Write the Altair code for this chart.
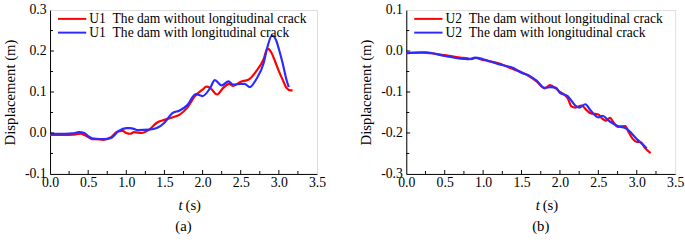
import altair as alt
import pandas as pd

# ---------------- data ----------------
# Panel (a): U1
a_red_t = [0.0, 0.1, 0.2, 0.3, 0.35, 0.4, 0.45, 0.5, 0.55, 0.6, 0.7, 0.8, 0.88, 0.95, 1.0, 1.05, 1.1,
           1.2, 1.3, 1.4, 1.5, 1.6, 1.7, 1.8, 1.9, 2.0, 2.05, 2.1, 2.19, 2.27, 2.35, 2.4, 2.5, 2.6,
           2.7, 2.8, 2.85, 2.9, 2.95, 3.0, 3.05, 3.1, 3.15, 3.18]
a_red_d = [-0.005, -0.005, -0.005, -0.004, -0.003, -0.002, -0.005, -0.01, -0.015, -0.015, -0.017,
           -0.01, 0.003, 0.005, 0.0, -0.002, 0.002, 0.0, 0.008, 0.025, 0.032, 0.038, 0.045, 0.062,
           0.09, 0.106, 0.113, 0.11, 0.094, 0.11, 0.12, 0.115, 0.125, 0.13, 0.15, 0.18, 0.206, 0.197,
           0.175, 0.151, 0.13, 0.11, 0.104, 0.104]
a_blue_t = [0.0, 0.1, 0.2, 0.3, 0.38, 0.45, 0.5, 0.55, 0.6, 0.7, 0.8, 0.9, 1.0, 1.05, 1.1, 1.15, 1.3,
            1.4, 1.5, 1.6, 1.7, 1.8, 1.91, 2.0, 2.1, 2.16, 2.25, 2.34, 2.4, 2.5, 2.55, 2.62, 2.7, 2.8,
            2.85, 2.91, 2.96, 3.0, 3.05, 3.1, 3.13]
a_blue_d = [-0.002, -0.002, -0.002, -0.001, 0.002, 0.0, -0.008, -0.013, -0.014, -0.015, -0.012,
            0.005, 0.012, 0.012, 0.01, 0.007, 0.008, 0.012, 0.025, 0.048, 0.055, 0.068, 0.095, 0.09,
            0.11, 0.129, 0.116, 0.126, 0.118, 0.12, 0.12, 0.112, 0.13, 0.17, 0.21, 0.238, 0.228,
            0.205, 0.17, 0.13, 0.112]

# Panel (b): U2
b_red_t = [0.0, 0.2, 0.35, 0.5, 0.7, 0.8, 0.85, 0.9, 1.0, 1.2, 1.4, 1.5, 1.6, 1.7, 1.8, 1.87, 1.95,
           2.0, 2.05, 2.1, 2.15, 2.2, 2.28, 2.35, 2.4, 2.5, 2.55, 2.6, 2.65, 2.7, 2.75, 2.85, 2.9,
           2.95, 3.0, 3.05, 3.1, 3.18]
b_red_d = [-0.005, -0.004, -0.006, -0.01, -0.016, -0.018, -0.02, -0.017, -0.022, -0.03, -0.045,
           -0.052, -0.062, -0.075, -0.091, -0.083, -0.092, -0.1, -0.105, -0.115, -0.135, -0.138,
           -0.133, -0.145, -0.152, -0.155, -0.165, -0.17, -0.163, -0.175, -0.185, -0.183, -0.2,
           -0.215, -0.222, -0.222, -0.235, -0.249]
b_blue_t = [0.0, 0.25, 0.5, 0.8, 0.9, 1.0, 1.2, 1.4, 1.5, 1.6, 1.7, 1.8, 1.88, 1.95, 2.0, 2.1, 2.2,
            2.25, 2.33, 2.4, 2.5, 2.55, 2.65, 2.75, 2.85, 2.9, 3.0, 3.1, 3.13]
b_blue_d = [-0.005, -0.003, -0.012, -0.02, -0.016, -0.02, -0.032, -0.042, -0.053, -0.06, -0.073,
            -0.09, -0.088, -0.09, -0.102, -0.11, -0.133, -0.138, -0.13, -0.145, -0.162, -0.158,
            -0.172, -0.183, -0.188, -0.195, -0.215, -0.232, -0.238]

a_names = ["U1\u00a0\u00a0The dam without longitudinal crack", "U1\u00a0\u00a0The dam with longitudinal crack"]
b_names = ["U2\u00a0\u00a0The dam without longitudinal crack", "U2\u00a0\u00a0The dam with longitudinal crack"]

x_major = [0.0, 0.5, 1.0, 1.5, 2.0, 2.5, 3.0, 3.5]
x_minor = [0.25, 0.75, 1.25, 1.75, 2.25, 2.75, 3.25]
a_y_major = [-0.1, 0.0, 0.1, 0.2, 0.3]
a_y_minor = [-0.05, 0.05, 0.15, 0.25]
b_y_major = [-0.3, -0.2, -0.1, 0.0, 0.1]
b_y_minor = [-0.25, -0.15, -0.05, 0.05]

FONT = "Liberation Serif"
RED = "#ff0000"
BLUE = "#2b2bff"
H = 167

label_expr = "datum.value < 0 ? '-' + format(-datum.value, '.1f') : format(datum.value, '.1f')"


def panel(rt, rd, btt, bd, names, ydom, ymaj, ymin, W, caption):
    df = pd.concat([
        pd.DataFrame({"t": rt, "d": rd, "s": names[0]}),
        pd.DataFrame({"t": btt, "d": bd, "s": names[1]}),
    ])
    xs = alt.Scale(domain=[0, 3.5], nice=False, zero=False)
    ys = alt.Scale(domain=ydom, nice=False, zero=False)
    xax = alt.Axis(values=x_major, labelExpr=label_expr, tickSize=0, grid=False,
                   title=None, labelPadding=2, domainColor="black",
                   labelOverlap=False, labelFlush=False,
                   labelFont=FONT, labelFontSize=14, labelColor="black")
    yax = alt.Axis(values=ymaj, labelExpr=label_expr, tickSize=0, grid=False,
                   title="Displacement (m)", titleFont=FONT, titleFontSize=15,
                   titleFontWeight="normal", titleColor="black", titlePadding=7,
                   labelPadding=4, domainColor="black",
                   labelOverlap=False, labelFlush=False,
                   labelFont=FONT, labelFontSize=14, labelColor="black")
    lines = alt.Chart(df).mark_line(strokeWidth=2.2, interpolate="monotone").encode(
        x=alt.X("t:Q", scale=xs, axis=xax),
        y=alt.Y("d:Q", scale=ys, axis=yax),
        color=alt.Color("s:N", scale=alt.Scale(domain=names, range=[RED, BLUE]),
                        legend=alt.Legend(title=None, orient="none", legendX=15.5, legendY=2,
                                          symbolType="M-2.4,0H2.4", symbolSize=144, symbolStrokeWidth=2,
                                          labelFont=FONT, labelFontSize=13.8, labelColor="black",
                                          labelLimit=400, rowPadding=-2, padding=0, labelOffset=10.5)),
    )
    xmaj = alt.Chart(pd.DataFrame({"t": x_major[1:-1]})).mark_rule(color="black").encode(
        x=alt.X("t:Q", scale=xs, axis=xax), y=alt.value(H), y2=alt.value(H - 4))
    xmin = alt.Chart(pd.DataFrame({"t": x_minor})).mark_rule(color="black").encode(
        x=alt.X("t:Q", scale=xs, axis=xax), y=alt.value(H), y2=alt.value(H - 3))
    ymj = alt.Chart(pd.DataFrame({"d": ymaj[1:-1]})).mark_rule(color="black").encode(
        y=alt.Y("d:Q", scale=ys, axis=yax), x=alt.value(0), x2=alt.value(4))
    ymn = alt.Chart(pd.DataFrame({"d": ymin})).mark_rule(color="black").encode(
        y=alt.Y("d:Q", scale=ys, axis=yax), x=alt.value(0), x2=alt.value(3))
    one = pd.DataFrame({"k": [0]})
    tt = alt.Chart(one).mark_text(text="t", font=FONT, fontSize=15, fontStyle="italic", align="right",
                                  baseline="middle", color="black").encode(
        x=alt.value(W / 2 - 1), y=alt.value(H + 32))
    ts = alt.Chart(one).mark_text(text="(s)", font=FONT, fontSize=15, align="left",
                                  baseline="middle", color="black").encode(
        x=alt.value(W / 2 + 2), y=alt.value(H + 32))
    cap = alt.Chart(one).mark_text(text=caption, font=FONT, fontSize=15, align="center",
                                   baseline="middle", color="black").encode(
        x=alt.value(W / 2), y=alt.value(H + 53))
    return alt.layer(lines, xmaj, xmin, ymj, ymn, tt, ts, cap).properties(width=W, height=H)


left = panel(a_red_t, a_red_d, a_blue_t, a_blue_d, a_names, [-0.1, 0.3], a_y_major, a_y_minor, 272, "(a)")
right = panel(b_red_t, b_red_d, b_blue_t, b_blue_d, b_names, [-0.3, 0.1], b_y_major, b_y_minor, 274, "(b)")

chart = alt.hconcat(left, right, spacing=32).resolve_scale(color="independent").properties(
    padding={"left": 2, "top": 0, "right": 0, "bottom": 0},
    background="white",
).configure_view(stroke="#999999", strokeWidth=1.5).configure(font=FONT).configure_axis(
    labelFont=FONT, titleFont=FONT, labelOverlap=False
).configure_legend(labelFont=FONT)

chart.save("out.html", embed_options={"renderer": "svg", "actions": False})
